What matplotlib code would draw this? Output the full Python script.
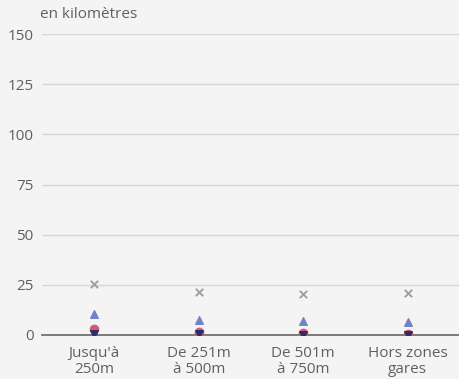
import numpy as np
import matplotlib.pyplot as plt

plt.rcParams['font.family'] = ['Open Sans', 'DejaVu Sans']

categories = ["Jusqu'à\n250m", "De 251m\nà 500m", "De 501m\nà 750m", "Hors zones\ngares"]
serie_croix = [25.5, 21.3, 20.3, 20.8]
serie_triangle = [10.3, 7.5, 6.8, 6.5]
serie_rond = [3.0, 1.5, 0.8, 0.7]
serie_bas = [0.4, 0.3, 0.2, 0.2]

bg = "#f4f4f4"
fig = plt.figure(figsize=(4.6, 3.79), dpi=100, facecolor=bg)
ax = fig.add_axes([42 / 460, 44 / 379, 418 / 460, 301 / 379], facecolor=bg)

x = np.arange(len(categories))
ax.scatter(x, serie_croix, marker="x", s=28, color="#a0a0a0", linewidths=1.4, zorder=3)
ax.scatter(x, serie_triangle, marker="^", s=30, color="#7383c4", zorder=3)
ax.scatter(x, serie_rond, marker="o", s=36, color="#d45a72", zorder=3)
ax.scatter(x, serie_bas, marker="v", s=30, color="#2a2f6a", zorder=4)

ax.set_xlim(-0.5, len(categories) - 0.5)
ax.set_ylim(0, 150)
ax.set_yticks(np.arange(0, 151, 25))
ax.set_xticks(x)
ax.set_xticklabels(categories, linespacing=1.05)
ax.tick_params(axis="both", length=0, labelsize=11, colors="#606060")
ax.tick_params(axis="x", pad=8)
ax.tick_params(axis="y", pad=6)
ax.grid(axis="y", color="#d6d6d6", linewidth=1)
ax.set_axisbelow(True)
for s in ["top", "right", "left"]:
    ax.spines[s].set_visible(False)
ax.spines["bottom"].set_color("#666666")
ax.spines["bottom"].set_linewidth(1.2)

fig.text(40 / 460, 1 - 15 / 379, "en kilomètres", fontsize=11, color="#606060", va="center")

fig.savefig("out.png", dpi=100, facecolor=bg)
